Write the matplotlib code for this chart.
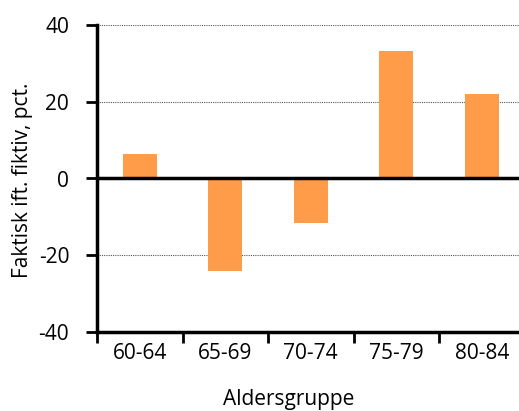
import matplotlib
matplotlib.use("Agg")
import matplotlib.pyplot as plt
import numpy as np

categories = ["60-64", "65-69", "70-74", "75-79", "80-84"]
values = [6.5, -24.2, -11.7, 33.1, 21.9]
yticks = [-40, -20, 0, 20, 40]

plt.rcParams['font.family'] = ['Open Sans', 'DejaVu Sans']
FS = 15

W, H = 519, 411
fig = plt.figure(figsize=(W / 100, H / 100), dpi=100)
ax = fig.add_axes([97 / W, (H - 332) / H, 427.5 / W, (332 - 25) / H])

x = np.arange(len(categories))
ax.bar(x, values, width=0.4, color="#FF9C4A", zorder=2)

ax.set_xlim(-0.5, len(categories) - 0.5)
ax.set_ylim(-40, 40)
ax.set_yticks(yticks)
ax.set_yticklabels([str(v) for v in yticks], fontsize=FS)

# category labels centred under bars, tick marks on the boundaries
ax.set_xticks(np.arange(len(categories) + 1) - 0.5)
ax.set_xticklabels([])
ax.set_xticks(x, minor=True)
ax.set_xticklabels(categories, minor=True, fontsize=FS)
ax.tick_params(axis="x", which="minor", length=0, pad=8)
ax.tick_params(axis="x", which="major", length=8, width=2, direction="out")
ax.tick_params(axis="y", length=8, width=2, direction="out", pad=12)

for v in [40, 20, -20]:
    ax.axhline(v, color="#555555", lw=0.8, ls=(0, (1, 1)), zorder=1)
ax.axhline(0, color="black", lw=2.5, zorder=3)

for s in ["top", "right"]:
    ax.spines[s].set_visible(False)
ax.spines["left"].set_linewidth(2.5)
ax.spines["bottom"].set_linewidth(2.5)

fig.text(23 / W, 1 - 180 / H, "Faktisk ift. fiktiv, pct.", fontsize=FS,
         rotation=90, ha="center", va="center")
fig.text(289 / W, 1 / H, "Aldersgruppe", fontsize=FS,
         ha="center", va="bottom")

fig.savefig("out.png", dpi=100)
